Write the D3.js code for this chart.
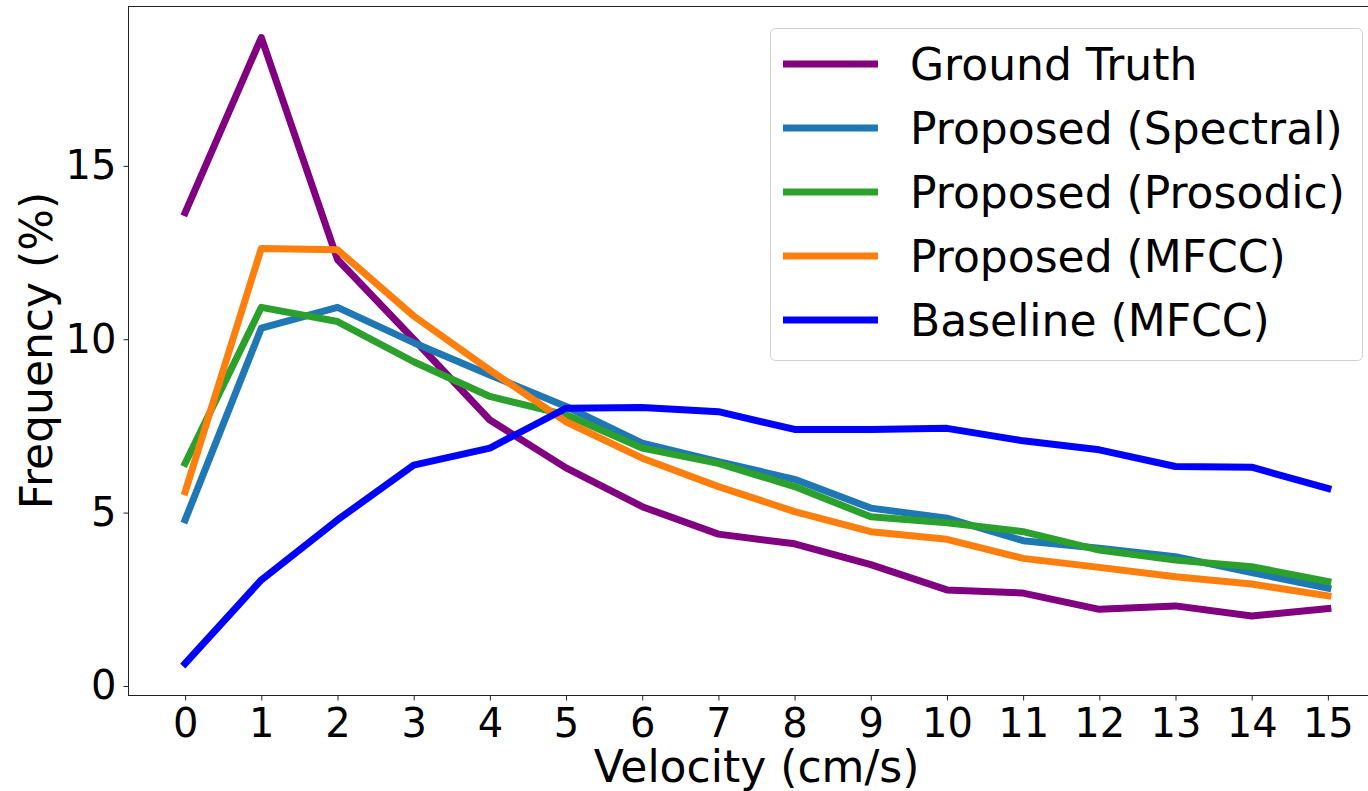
<!DOCTYPE html>
<html>
<head>
<meta charset="utf-8">
<style>
  body { margin: 0; background: #fff; }
  svg { display: block; font-family: "DejaVu Sans", sans-serif; }
</style>
</head>
<body>
<svg width="1368" height="791"></svg>
<script src="https://d3js.org/d3.v7.min.js"></script>
<script>

// velocity bins (cm/s)
var velocity = d3.range(0, 16);

var groundTruth = [13.65, 18.7, 12.3, 10.0, 7.67, 6.29, 5.17, 4.38, 4.1, 3.5, 2.77, 2.68, 2.21, 2.31, 2.02, 2.23];
var spectral    = [4.79, 10.32, 10.92, 9.9, 8.97, 8.06, 7.0, 6.47, 5.96, 5.13, 4.84, 4.19, 3.97, 3.73, 3.27, 2.82];
var prosodic    = [6.42, 10.92, 10.51, 9.35, 8.35, 7.82, 6.86, 6.42, 5.75, 4.88, 4.71, 4.45, 3.92, 3.63, 3.44, 3.01];
var mfcc        = [5.6, 12.62, 12.58, 10.67, 9.11, 7.62, 6.57, 5.75, 5.03, 4.45, 4.23, 3.68, 3.42, 3.15, 2.94, 2.6];
var baseline    = [0.65, 3.06, 4.79, 6.37, 6.86, 8.01, 8.03, 7.91, 7.4, 7.4, 7.43, 7.07, 6.81, 6.33, 6.31, 5.7];

var seriesNames  = ["Ground Truth", "Proposed (Spectral)", "Proposed (Prosodic)", "Proposed (MFCC)", "Baseline (MFCC)"];
var seriesColors = ["purple", "#1f77b4", "#2ca02c", "#ff7f0e", "blue"];
var yTicks = [0, 5, 10, 15];

var series = [groundTruth, spectral, prosodic, mfcc, baseline].map(function(v, i) {
  return { name: seriesNames[i], color: seriesColors[i], values: v };
});

var svg = d3.select("svg");
var plotLeft = 128, plotRight = 1385, plotTop = 6, plotBottom = 695;

var x = d3.scaleLinear().domain([-0.75, 15.75]).range([plotLeft, plotRight]);
var y = d3.scaleLinear().domain([-0.26, 19.61]).range([plotBottom, plotTop]);

var line = d3.line()
    .x(function(d, i) { return x(velocity[i]); })
    .y(function(d) { return y(d); });

svg.append("g")
    .selectAll("path")
    .data(series)
    .enter().append("path")
      .attr("d", function(d) { return line(d.values); })
      .attr("fill", "none")
      .attr("stroke", function(d) { return d.color; })
      .attr("stroke-width", 7)
      .attr("stroke-linejoin", "round")
      .attr("stroke-linecap", "square");

// spines
svg.append("rect")
    .attr("x", plotLeft + 0.5).attr("y", plotTop + 0.5)
    .attr("width", plotRight - plotLeft).attr("height", plotBottom - plotTop)
    .attr("fill", "none")
    .attr("stroke", "#222")
    .attr("stroke-width", 1);

var xAxis = svg.append("g")
    .attr("transform", "translate(0," + (plotBottom + 0.5) + ")")
    .call(d3.axisBottom(x).tickValues(velocity).tickSize(5).tickPadding(8).tickFormat(d3.format("d")));

var yAxis = svg.append("g")
    .attr("transform", "translate(" + (plotLeft + 0.5) + ",0)")
    .call(d3.axisLeft(y).tickValues(yTicks).tickSize(5).tickPadding(7).tickFormat(d3.format("d")));

[xAxis, yAxis].forEach(function(ax) {
  ax.select(".domain").remove();
  ax.selectAll(".tick line").attr("stroke", "#222");
  ax.selectAll("text")
      .attr("fill", "#000")
      .style("font-family", "'DejaVu Sans', sans-serif")
      .style("font-size", "40px");
});

svg.append("text")
    .attr("x", (plotLeft + plotRight) / 2)
    .attr("y", 782)
    .attr("text-anchor", "middle")
    .style("font-size", "44px")
    .text("Velocity (cm/s)");

svg.append("text")
    .attr("transform", "translate(52," + ((plotTop + plotBottom) / 2) + ") rotate(-90)")
    .attr("text-anchor", "middle")
    .style("font-size", "44px")
    .text("Frequency (%)");

// legend
var legend = svg.append("g");
legend.append("rect")
    .attr("x", 770.5).attr("y", 28.5)
    .attr("width", 592).attr("height", 332)
    .attr("rx", 5)
    .attr("fill", "#fff")
    .attr("fill-opacity", 0.8)
    .attr("stroke", "#d0d0d0");

var item = legend.selectAll("g.item")
    .data(series)
    .enter().append("g")
      .attr("class", "item")
      .attr("transform", function(d, i) { return "translate(0," + (64 + i * 64) + ")"; });

item.append("line")
    .attr("x1", 783).attr("x2", 878)
    .attr("stroke", function(d) { return d.color; })
    .attr("stroke-width", 7);

item.append("text")
    .attr("x", 910)
    .attr("dy", "0.36em")
    .style("font-size", "44px")
    .text(function(d) { return d.name; });

</script>
</body>
</html>
